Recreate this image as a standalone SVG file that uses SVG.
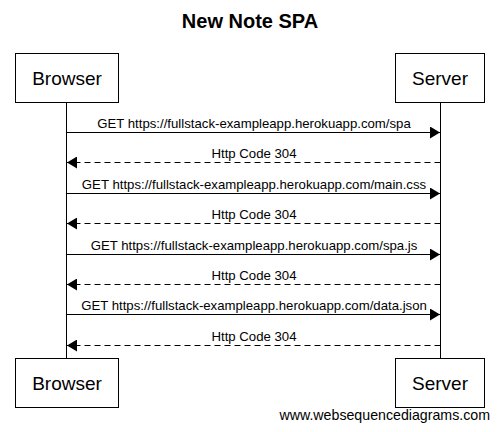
<svg xmlns="http://www.w3.org/2000/svg" width="499" height="432" viewBox="0 0 499 432">
<style>
.box{fill:#fff;stroke:#000;stroke-width:1}
.life{stroke:#000;stroke-width:1}
.msg{stroke:#000;stroke-width:1;fill:none}
.ret{stroke-dasharray:6,4}
.pt{font-family:"Liberation Sans",Arial,sans-serif;font-size:19px;text-anchor:middle;fill:#000}
.lbl{font-family:"Liberation Sans",Arial,sans-serif;font-size:13.2px;text-anchor:middle;fill:#000}
.title{font-family:"Liberation Sans",Arial,sans-serif;font-size:20px;font-weight:bold;text-anchor:middle;fill:#000}
.foot{font-family:"Liberation Sans",Arial,sans-serif;font-size:14.2px;text-anchor:end;fill:#000}
</style>
<defs>
<marker id="ah" viewBox="0 0 10 12" refX="10" refY="6" markerWidth="10" markerHeight="12" markerUnits="userSpaceOnUse" orient="auto">
<path d="M0,0 L10,6 L0,12 Z" fill="#000"/>
</marker>
</defs>
<rect width="499" height="432" fill="#fff"/>
<text class="title" x="250" y="28">New Note SPA</text>
<g id="lifelines">
<line class="life" x1="66.5" y1="102" x2="66.5" y2="358"/>
<line class="life" x1="440.5" y1="102" x2="440.5" y2="358"/>
</g>
<g id="browser-top"><rect class="box" x="15.5" y="53.5" width="103" height="49"/><text class="pt" x="67" y="85">Browser</text></g>
<g id="server-top"><rect class="box" x="395.5" y="53.5" width="89" height="49"/><text class="pt" x="440" y="85">Server</text></g>
<g id="browser-bottom"><rect class="box" x="15.5" y="358.5" width="103" height="49"/><text class="pt" x="67" y="390">Browser</text></g>
<g id="server-bottom"><rect class="box" x="395.5" y="358.5" width="89" height="49"/><text class="pt" x="440" y="390">Server</text></g>
<g id="connectors">
<line class="msg" x1="66.5" y1="132.5" x2="440" y2="132.5" marker-end="url(#ah)"/>
<text class="lbl" x="254" y="128">GET https://fullstack-exampleapp.herokuapp.com/spa</text>
<line class="msg ret" x1="440.5" y1="162.5" x2="67" y2="162.5" marker-end="url(#ah)"/>
<text class="lbl" x="254" y="158">Http Code 304</text>
<line class="msg" x1="66.5" y1="193.5" x2="440" y2="193.5" marker-end="url(#ah)"/>
<text class="lbl" x="254" y="189">GET https://fullstack-exampleapp.herokuapp.com/main.css</text>
<line class="msg ret" x1="440.5" y1="223.5" x2="67" y2="223.5" marker-end="url(#ah)"/>
<text class="lbl" x="254" y="219">Http Code 304</text>
<line class="msg" x1="66.5" y1="254.5" x2="440" y2="254.5" marker-end="url(#ah)"/>
<text class="lbl" x="254" y="250">GET https://fullstack-exampleapp.herokuapp.com/spa.js</text>
<line class="msg ret" x1="440.5" y1="284.5" x2="67" y2="284.5" marker-end="url(#ah)"/>
<text class="lbl" x="254" y="280">Http Code 304</text>
<line class="msg" x1="66.5" y1="314.5" x2="440" y2="314.5" marker-end="url(#ah)"/>
<text class="lbl" x="254" y="310">GET https://fullstack-exampleapp.herokuapp.com/data.json</text>
<line class="msg ret" x1="440.5" y1="345.5" x2="67" y2="345.5" marker-end="url(#ah)"/>
<text class="lbl" x="254" y="341">Http Code 304</text>
</g>
<text class="foot" x="490" y="420">www.websequencediagrams.com</text>
</svg>
